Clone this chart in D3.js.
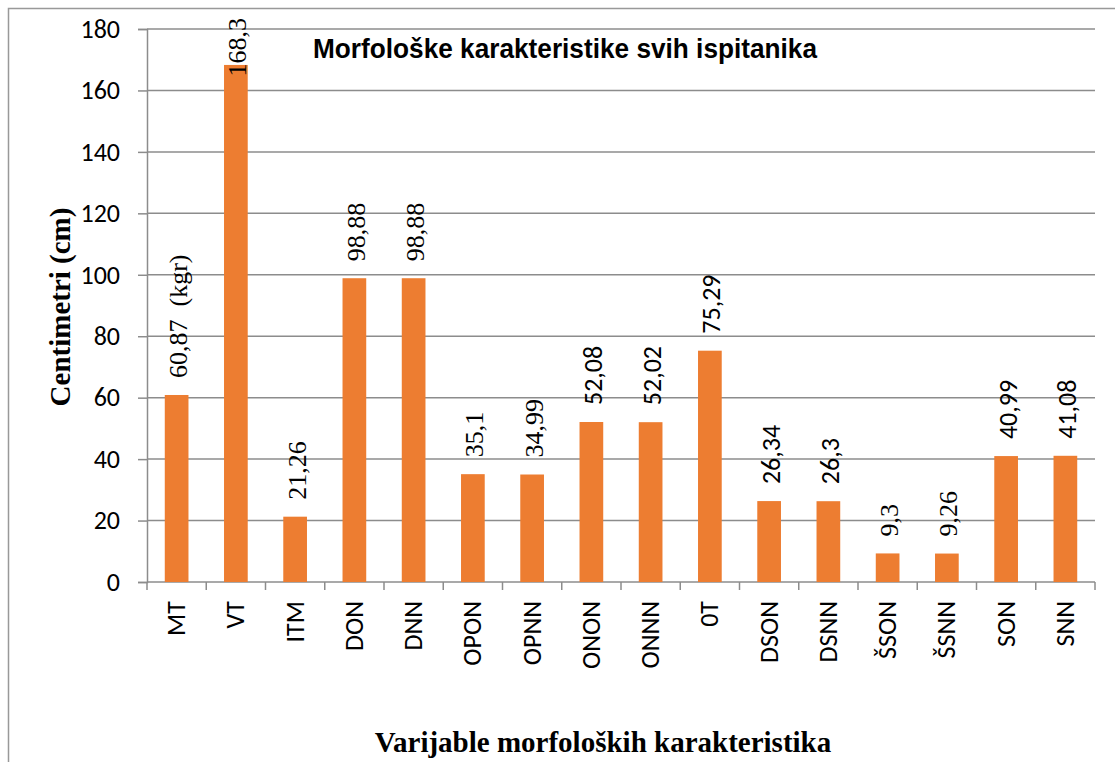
<!DOCTYPE html>
<html>
<head>
<meta charset="utf-8">
<script src="https://cdn.jsdelivr.net/npm/d3@7"></script>
<style>
  body { margin: 0; background: #fff; }
  text { white-space: pre; }
</style>
</head>
<body>
<div id="svg_container"></div>
<script>
// chart data
const categories = ["MT", "VT", "ITM", "DON", "DNN", "OPON", "OPNN", "ONON", "ONNN", "0T", "DSON", "DSNN", "ŠSON", "ŠSNN", "SON", "SNN"];
const values = [60.87, 168.3, 21.26, 98.88, 98.88, 35.1, 34.99, 52.08, 52.02, 75.29, 26.34, 26.3, 9.3, 9.26, 40.99, 41.08];
const valueLabels = ["60,87  (kgr)", "168,3", "21,26", "98,88", "98,88", "35,1", "34,99", "52,08", "52,02", "75,29", "26,34", "26,3", "9,3", "9,26", "40,99", "41,08"];
const yTicks = [0, 20, 40, 60, 80, 100, 120, 140, 160, 180];

// labels that came out in the sans font in the original
const sansLabelCats = ["ONON", "ONNN", "0T", "DSON", "DSNN", "SON", "SNN"];

const W = 1115, H = 762;
const margin = { top: 29, right: 20, bottom: 180, left: 147 },
    width = 1095 - margin.left,
    height = 582 - margin.top;

const sans = "Carlito, 'Open Sans', sans-serif";
const serif = "'Liberation Serif', 'Times New Roman', serif";
const gridColor = "#8c8c8c";

const root = d3.select("#svg_container")
    .append("svg")
    .attr("width", W)
    .attr("height", H);

// outer chart frame (runs past the page edges on right/bottom)
root.append("rect")
    .attr("x", 8.5).attr("y", 8.5)
    .attr("width", W + 20).attr("height", H + 20)
    .attr("fill", "none")
    .attr("stroke", "#999")
    .attr("stroke-width", 1.5);

const svg = root.append("g")
    .attr("transform", `translate(${margin.left}, ${margin.top})`);

const x = d3.scaleBand()
    .domain(categories)
    .range([0, width])
    .paddingInner(0.6)
    .paddingOuter(0.3);

const y = d3.scaleLinear()
    .domain([0, 180])
    .range([height, 0]);

// gridlines
svg.append("g")
    .selectAll("line")
    .data(yTicks.filter(d => d > 0))
    .enter()
    .append("line")
    .attr("x1", 0).attr("x2", width)
    .attr("y1", d => y(d)).attr("y2", d => y(d))
    .attr("stroke", gridColor)
    .attr("stroke-width", 1.5);

// Y axis
const yAxis = svg.append("g")
    .call(d3.axisLeft(y).tickValues(yTicks).tickSize(9).tickPadding(18).tickFormat(d3.format("d")));
yAxis.select(".domain").attr("stroke", gridColor).attr("stroke-width", 1.5);
yAxis.selectAll(".tick line").attr("stroke", gridColor).attr("stroke-width", 1.5);
yAxis.selectAll(".tick text")
    .attr("font-family", sans)
    .attr("font-size", 26)
    .attr("fill", "#000");

// X axis line + ticks at band boundaries
const step = x.step();
svg.append("line")
    .attr("x1", 0).attr("x2", width)
    .attr("y1", height).attr("y2", height)
    .attr("stroke", gridColor).attr("stroke-width", 1.5);
svg.append("g")
    .selectAll("line")
    .data(d3.range(categories.length + 1))
    .enter()
    .append("line")
    .attr("x1", i => i * step).attr("x2", i => i * step)
    .attr("y1", height).attr("y2", height + 8)
    .attr("stroke", gridColor).attr("stroke-width", 1.5);

// category labels, rotated
svg.append("g")
    .selectAll("text")
    .data(categories)
    .enter()
    .append("text")
    .attr("transform", d => `translate(${x(d) + x.bandwidth() / 2}, ${height + 19}) rotate(-90)`)
    .attr("dy", "0.33em")
    .attr("text-anchor", "end")
    .attr("font-family", sans)
    .attr("font-size", 26)
    .attr("fill", "#000")
    .text(d => d);

// bars
svg.append("g")
    .selectAll("rect")
    .data(categories)
    .enter()
    .append("rect")
    .attr("x", d => x(d))
    .attr("y", (d, i) => y(values[i]))
    .attr("width", x.bandwidth())
    .attr("height", (d, i) => height - y(values[i]))
    .attr("fill", "#ED7D31");

// value labels, rotated, kept inside the chart at the top
const topLimit = 18 - margin.top;
svg.append("g")
    .selectAll("text")
    .data(categories)
    .enter()
    .append("text")
    .attr("dy", "0.36em")
    .attr("text-anchor", "start")
    .attr("font-family", d => sansLabelCats.includes(d) ? sans : serif)
    .attr("font-size", d => sansLabelCats.includes(d) ? 26 : 26)
    .attr("fill", "#000")
    .text((d, i) => valueLabels[i])
    .each(function (d, i) {
        const len = this.getComputedTextLength();
        let start = y(values[i]) - 17;
        if (start - len < topLimit) start = topLimit + len;
        d3.select(this).attr("transform",
            `translate(${x(d) + x.bandwidth() / 2 + 1}, ${start}) rotate(-90)`);
    });

// chart title
root.append("text")
    .attr("x", 565).attr("y", 58)
    .attr("text-anchor", "middle")
    .attr("font-family", "'Liberation Sans Narrow', 'Liberation Sans', Arial, sans-serif")
    .attr("font-weight", "700")
    .attr("font-size", 28)
    .attr("textLength", 504)
    .attr("lengthAdjust", "spacingAndGlyphs")
    .text("Morfološke karakteristike svih ispitanika");

// axis titles
root.append("text")
    .attr("transform", "translate(70, 307) rotate(-90)")
    .attr("text-anchor", "middle")
    .attr("font-family", serif)
    .attr("font-weight", "700")
    .attr("font-size", 29)
    .text("Centimetri (cm)");

root.append("text")
    .attr("x", 603).attr("y", 752)
    .attr("text-anchor", "middle")
    .attr("font-family", serif)
    .attr("font-weight", "700")
    .attr("font-size", 29)
    .text("Varijable morfoloških karakteristika");
</script>
</body>
</html>
